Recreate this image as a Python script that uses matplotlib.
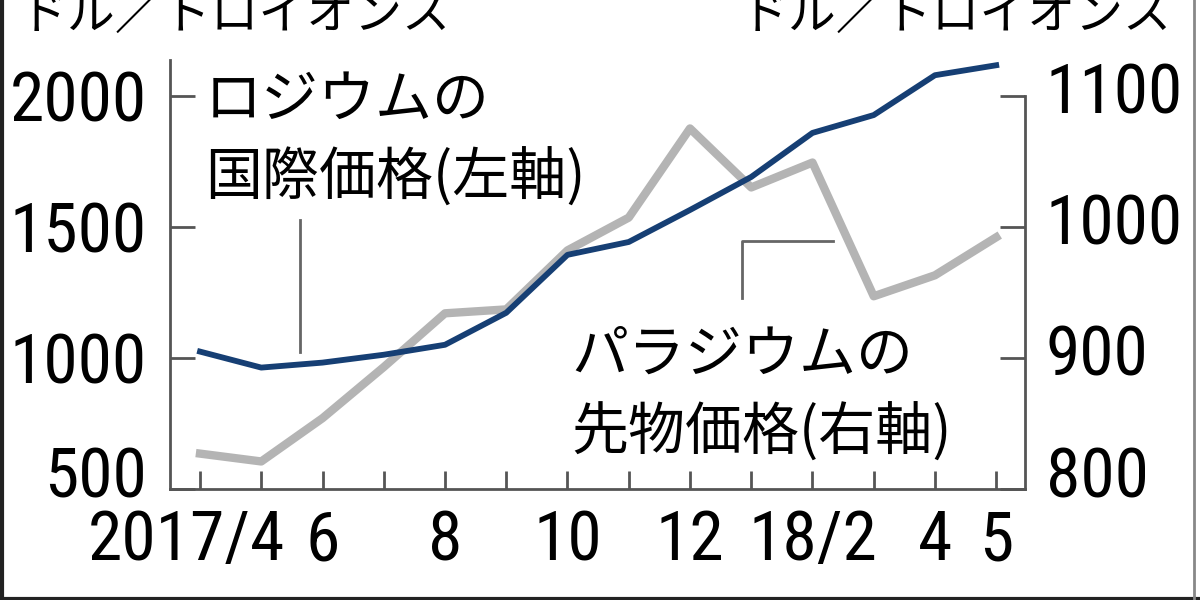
import matplotlib
matplotlib.use("Agg")
import matplotlib.pyplot as plt
import matplotlib.transforms as mtransforms
from matplotlib import font_manager
from matplotlib.lines import Line2D

# data (monthly, 2017/4 - 2018/5)
months = ["2017/4", "5", "6", "7", "8", "9", "10", "11", "12", "18/1", "18/2", "3", "4", "5"]
tick_labels = ["2017/4", "", "6", "", "8", "", "10", "", "12", "", "18/2", "", "4", "5"]
rhodium = [1024, 963, 982, 1012, 1050, 1172, 1393, 1442, 1564, 1690, 1858, 1926, 2078, 2116]
palladium = [827, 821, 854, 893, 934, 937, 982, 1007, 1075, 1030, 1049, 947, 963, 992]
left_ticks = [500, 1000, 1500, 2000]
right_ticks = [800, 900, 1000, 1100]

jp = "Noto Sans CJK JP"
num_font = "Liberation Sans"
for name in ["Liberation Sans Narrow", "Arimo Narrow", "Roboto Condensed", "Open Sans Condensed",
             "Archivo Narrow", "Barlow Semi Condensed"]:
    try:
        font_manager.findfont(name, fallback_to_default=False)
        num_font = name
        break
    except Exception:
        pass

navy = "#163f74"
gray = "#b4b4b4"
axc = "#555555"

fig = plt.figure(figsize=(12, 6), dpi=100)
ax = fig.add_axes([170 / 1200, 1 - 489 / 600, 855 / 1200, 429 / 600])
ax2 = ax.twinx()

x = list(range(len(months)))
ax2.plot(x, palladium, color=gray, linewidth=6, zorder=2)
ax.plot(x, rhodium, color=navy, linewidth=4.2, zorder=3)
ax.set_zorder(ax2.get_zorder() + 1)
ax.patch.set_visible(False)

ax.set_xlim(-0.49, 13.47)
ax.set_ylim(500, 2136)
ax2.set_ylim(800, 1127.2)

for a in (ax, ax2):
    a.spines["top"].set_visible(False)
    for s in a.spines.values():
        s.set_color(axc)
        s.set_linewidth(2)
ax.spines["right"].set_visible(False)
ax2.spines["left"].set_visible(False)
ax2.spines["bottom"].set_visible(False)
ax2.spines["right"].set_bounds(800, 1100)

fs = 50
ax.set_xticks(x)
ax.set_xticklabels(tick_labels, fontfamily=num_font, fontsize=fs)
ax.tick_params(axis="x", direction="in", length=13, width=2, color=axc, pad=14)
ax.set_yticks(left_ticks)
ax.set_yticklabels([str(v) for v in left_ticks], fontfamily=num_font, fontsize=fs)
ax.tick_params(axis="y", direction="in", length=18, width=2, color=axc, pad=17)
ax2.set_yticks(right_ticks)
ax2.set_yticklabels([str(v) for v in right_ticks], fontfamily=num_font, fontsize=fs)
ax2.tick_params(axis="y", direction="in", length=18, width=2, color=axc, pad=15)

# nudge some labels like the original
def shift(lbl, dx, dy):
    lbl.set_transform(lbl.get_transform() + mtransforms.ScaledTranslation(dx / 100, dy / 100, fig.dpi_scale_trans))

shift(ax.get_xticklabels()[0], -14, 0)
shift(ax.get_yticklabels()[0], 0, 18)
for i, lbl in enumerate(ax2.get_yticklabels()):
    shift(lbl, 0, 18 if i == 0 else 8)

def fx(px):
    return px / 1200

def fy(py):
    return 1 - py / 600

# unit labels
fig.text(fx(20), fy(29), "ドル／トロイオンス", fontfamily=jp, fontsize=34.5, va="baseline", ha="left")
fig.text(fx(1172), fy(29), "ドル／トロイオンス", fontfamily=jp, fontsize=34.5, va="baseline", ha="right")

# series labels
fig.text(fx(205), fy(117), "ロジウムの", fontfamily=jp, fontsize=41, va="baseline")
fig.text(fx(205), fy(195), "国際価格(左軸)", fontfamily=jp, fontsize=41, va="baseline")
fig.text(fx(571), fy(372), "パラジウムの", fontfamily=jp, fontsize=41, va="baseline")
fig.text(fx(571), fy(450), "先物価格(右軸)", fontfamily=jp, fontsize=41, va="baseline")

# leader lines
lc = "#666666"
fig.add_artist(Line2D([fx(300), fx(300)], [fy(220), fy(352)], color=lc, linewidth=2))
fig.add_artist(Line2D([fx(742), fx(742), fx(833)], [fy(298), fy(241), fy(241)], color=lc, linewidth=2))

# outer frame
fig.add_artist(Line2D([fx(1.5), fx(1.5)], [fy(0), fy(598.5)], color="#222222", linewidth=3))
fig.add_artist(Line2D([fx(0), fx(1200)], [fy(598.5), fy(598.5)], color="#222222", linewidth=3))
fig.add_artist(Line2D([fx(1194), fx(1194)], [fy(0), fy(598.5)], color="#888888", linewidth=2))

fig.savefig("out.png", dpi=100)
